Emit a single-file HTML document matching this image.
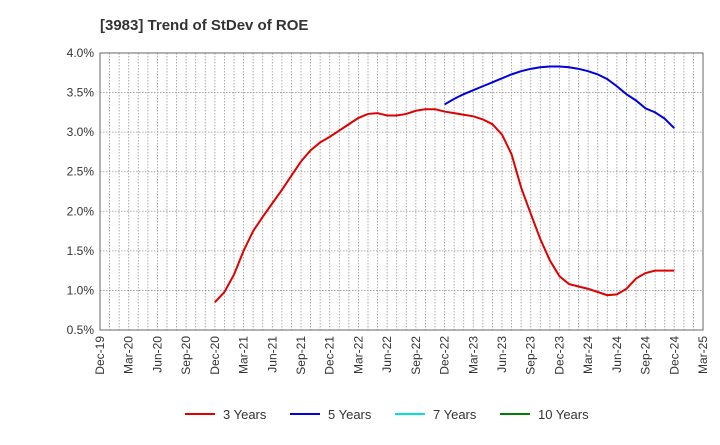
<!DOCTYPE html>
<html><head><meta charset="utf-8"><style>
body{margin:0;background:#fff;font-family:"Liberation Sans",Arial,sans-serif}
svg text{font-family:"Liberation Sans",Arial,sans-serif}
</style></head><body>
<svg id="c" width="720" height="440">
<text x="100" y="30" font-size="15" font-weight="bold" fill="#333">[3983]  Trend of StDev of ROE</text>
<g id="grid"></g><g id="axes"></g><g id="series"></g><g id="legend"></g>
</svg>
<script>
const xLabels=["Dec-19","Mar-20","Jun-20","Sep-20","Dec-20","Mar-21","Jun-21","Sep-21","Dec-21","Mar-22","Jun-22","Sep-22","Dec-22","Mar-23","Jun-23","Sep-23","Dec-23","Mar-24","Jun-24","Sep-24","Dec-24","Mar-25"];
const yTicks=[0.5,1.0,1.5,2.0,2.5,3.0,3.5,4.0];
const y3Start=12; // months after Dec-19
const y3=[0.85,0.98,1.2,1.5,1.75,1.93,2.1,2.27,2.45,2.63,2.77,2.87,2.94,3.02,3.1,3.18,3.23,3.24,3.21,3.21,3.23,3.27,3.29,3.29,3.26,3.24,3.22,3.2,3.16,3.1,2.97,2.72,2.3,1.97,1.65,1.38,1.18,1.08,1.05,1.02,0.98,0.94,0.95,1.02,1.15,1.22,1.25,1.25,1.25];
const y5Start=36;
const y5=[3.35,3.42,3.48,3.53,3.58,3.63,3.68,3.73,3.77,3.8,3.82,3.83,3.83,3.82,3.8,3.77,3.73,3.67,3.58,3.48,3.4,3.3,3.25,3.17,3.05];
const L=100,R=703,T=53,B=330,NM=63;
const xs=m=>L+(R-L)*m/NM;
const ys=v=>B-(B-T)*(v-0.5)/3.5;
const NS="http://www.w3.org/2000/svg";
function mk(tag,attrs,parent){const e=document.createElementNS(NS,tag);for(const k in attrs)e.setAttribute(k,attrs[k]);parent.appendChild(e);return e;}
const grid=document.getElementById('grid'),axes=document.getElementById('axes'),ser=document.getElementById('series'),leg=document.getElementById('legend');
for(let m=1;m<NM;m++){const l=mk('line',{x1:xs(m),x2:xs(m),y1:T,y2:B,stroke:'#999','stroke-dasharray':'1.5,1.5','stroke-width':0.8},grid);

}
yTicks.forEach(v=>{const l=mk('line',{x1:L,x2:R,y1:ys(v),y2:ys(v),stroke:'#999','stroke-dasharray':'1.5,1.5','stroke-width':0.8},grid);


const t=mk('text',{x:L-6,y:ys(v)+4,'text-anchor':'end','font-size':12,fill:'#333'},axes);t.textContent=v.toFixed(1)+'%';

});
const box=mk('rect',{x:L,y:T,width:R-L,height:B-T,fill:'none',stroke:'#666'},axes);


xLabels.forEach((s,i)=>{const x=xs(i*3);const t=mk('text',{x:x+4,y:B+6,'text-anchor':'end','font-size':12,fill:'#333',transform:`rotate(-90 ${x+4} ${B+6})`},axes);t.textContent=s;

});
function line(arr,start,color,name){const p=mk('polyline',{points:arr.map((v,i)=>xs(start+i)+','+ys(v)).join(' '),fill:'none',stroke:color,'stroke-width':2},ser);

}
line(y3,y3Start,'#e00000','series-3-years');
line(y5,y5Start,'#0000e0','series-5-years');
[["3 Years","#e00000",185],["5 Years","#0000e0",290],["7 Years","#00e0e0",395],["10 Years","#008000",500]].forEach(([n,c,x])=>{
const g=mk('g',{},leg);

mk('line',{x1:x,x2:x+30,y1:414,y2:414,stroke:c,'stroke-width':2},g);
const t=mk('text',{x:x+38,y:419,'font-size':13,fill:'#333'},g);t.textContent=n;});
</script>
</body></html>
